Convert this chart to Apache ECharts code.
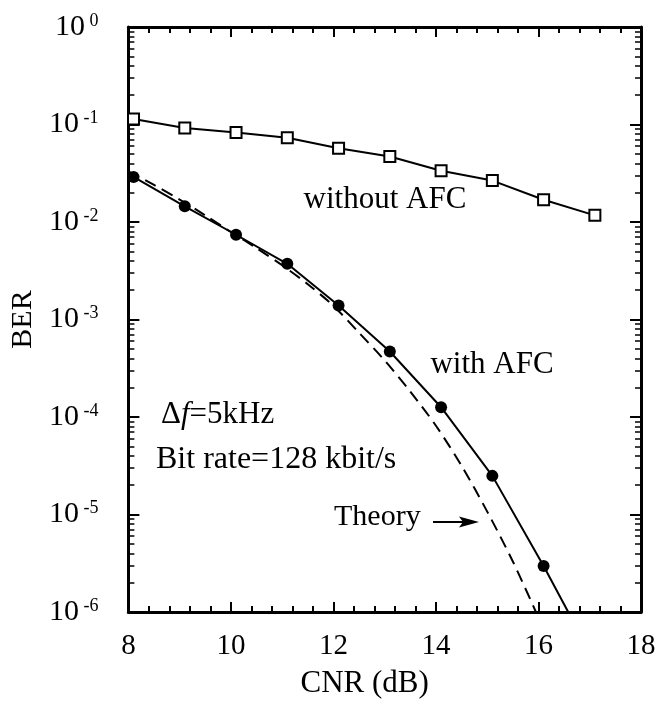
<!DOCTYPE html>
<html><head><meta charset="utf-8">
<script src="https://cdn.jsdelivr.net/npm/echarts@6/dist/echarts.min.js"></script>
<style>html,body{margin:0;padding:0;background:#fff}#c{width:660px;height:706px}</style>
</head><body><div id="c"></div><script>
// ---- data ----
const cnrWithout = [8.1, 9.1, 10.1, 11.1, 12.1, 13.1, 14.1, 15.1, 16.1, 17.1];
const berWithout = [0.114, 0.092, 0.083, 0.073, 0.057, 0.047, 0.0336, 0.0266, 0.0169, 0.0117];
const cnrWith = [8.1, 9.1, 10.1, 11.1, 12.1, 13.1, 14.1, 15.1, 16.1];
const berWith = [0.029, 0.0145, 0.0074, 0.00373, 0.00139, 0.00047, 0.000126, 0.0000249, 0.00000297];
const cnrWithTail = [16.58];
const berWithTail = [0.000001];
const cnrTheory = [8.0, 8.5, 9.0, 9.5, 10.0, 10.5, 11.0, 11.5, 12.0, 12.5, 13.0, 13.5, 14.0, 14.5, 15.0, 15.5, 15.95];
const berTheory = [0.0331, 0.024, 0.017, 0.0117, 0.0079, 0.0054, 0.0036, 0.0023, 0.00138, 0.00073, 0.00038, 0.000182, 0.0000813, 0.0000316, 0.0000107, 0.0000033, 0.000001];
const xTicks = [8, 10, 12, 14, 16, 18];
const yDecades = [-6, -5, -4, -3, -2, -1, 0];
const minorMultipliers = [2, 3, 4, 5, 6, 7, 8, 9];

// ---- build ----
const FONT = 'Liberation Serif';
const yMinor = [];
yDecades.slice(0, -1).forEach(d => minorMultipliers.forEach(m => yMinor.push(m * Math.pow(10, d))));
const pair = (xs, ys) => xs.map((x, i) => [x, ys[i]]);
const withData = pair(cnrWith, berWith).concat(
  pair(cnrWithTail, berWithTail).map(v => ({ value: v, symbol: 'none' })));

const axisLineStyle = { show: true, lineStyle: { color: '#000', width: 3 } };
function xAxisDef(pos, labels) {
  return {
    type: 'value', position: pos, min: xTicks[0], max: xTicks[xTicks.length - 1], interval: 2,
    axisLine: axisLineStyle,
    axisTick: { show: true, inside: true, length: 10, lineStyle: { color: '#000', width: 2 } },
    minorTick: { show: true, splitNumber: 5, length: 6, lineStyle: { color: '#000', width: 2 } },
    splitLine: { show: false }, minorSplitLine: { show: false },
    axisLabel: labels ? { show: true, margin: 20, fontFamily: FONT, fontSize: 29, color: '#000' } : { show: false },
    name: labels ? 'CNR (dB)' : '', nameLocation: 'middle', nameGap: 56,
    nameTextStyle: { fontFamily: FONT, fontSize: 31, color: '#000', padding: [0, 40, 0, 0] }
  };
}
function yAxisDef(pos, major, labels) {
  const ax = {
    type: 'log', logBase: 10, position: pos, min: Math.pow(10, yDecades[0]), max: Math.pow(10, yDecades[yDecades.length - 1]),
    axisLine: major ? axisLineStyle : { show: false },
    splitLine: { show: false },
    axisTick: major
      ? { show: true, inside: true, length: 11, lineStyle: { color: '#000', width: 2 } }
      : { show: true, inside: true, length: 6, customValues: yMinor, lineStyle: { color: '#000', width: 1.5 } },
    axisLabel: { show: false }
  };
  if (labels) {
    ax.axisLabel = {
      show: true, margin: 30,
      formatter: v => '{b|10}{s| ' + Math.round(Math.log10(v)) + '}',
      rich: {
        b: { fontFamily: FONT, fontSize: 30, color: '#000', lineHeight: 30 },
        s: { fontFamily: FONT, fontSize: 18, color: '#000', verticalAlign: 'top', lineHeight: 18 }
      }
    };
    ax.name = 'BER'; ax.nameLocation = 'middle'; ax.nameGap = 78; ax.nameRotate = 90;
    ax.nameTextStyle = { fontFamily: FONT, fontSize: 30, color: '#000' };
  }
  return ax;
}

const chart = echarts.init(document.getElementById('c'), null, { renderer: 'canvas' });
chart.setOption({
  backgroundColor: '#fff',
  animation: false,
  grid: { left: 117, right: 19, top: 27, bottom: 94, containLabel: false },
  xAxis: [xAxisDef('bottom', true), xAxisDef('top', false)],
  yAxis: [yAxisDef('left', true, true), yAxisDef('left', false, false), yAxisDef('right', true, false), yAxisDef('right', false, false)],
  series: [
    {
      type: 'line', data: pair(cnrWithout, berWithout), symbol: 'rect', symbolSize: 11,
      lineStyle: { color: '#000', width: 2 },
      itemStyle: { color: '#fff', borderColor: '#000', borderWidth: 2 }, z: 3
    },
    {
      type: 'line', data: pair(cnrTheory, berTheory), symbol: 'none', smooth: 0.3,
      lineStyle: { color: '#000', width: 2, type: [12, 7] }, z: 2
    },
    {
      type: 'line', data: withData, symbol: 'circle', symbolSize: 12,
      lineStyle: { color: '#000', width: 2 },
      itemStyle: { color: '#000', borderColor: '#000', borderWidth: 0 }, z: 4
    }
  ],
  graphic: [
    { type: 'text', z: 10, style: { x: 385, y: 200, text: 'without AFC', align: 'center', verticalAlign: 'middle', font: '31px "Liberation Serif"', fill: '#000' } },
    { type: 'text', z: 10, style: { x: 492, y: 365, text: 'with AFC', align: 'center', verticalAlign: 'middle', font: '31px "Liberation Serif"', fill: '#000' } },
    { type: 'text', z: 10, style: { x: 161, y: 415, verticalAlign: 'middle', text: 'Δ{i|f}=5kHz', font: '31px "Liberation Serif"', fill: '#000',
        rich: { i: { fontStyle: 'italic', fontFamily: FONT, fontSize: 31, fill: '#000' } } } },
    { type: 'text', z: 10, style: { x: 156, y: 460, verticalAlign: 'middle', text: 'Bit rate=128 kbit/s', font: '32px "Liberation Serif"', fill: '#000' } },
    { type: 'text', z: 10, style: { x: 334, y: 517, verticalAlign: 'middle', text: 'Theory', font: '30px "Liberation Serif"', fill: '#000' } },
    { type: 'line', z: 10, shape: { x1: 433, y1: 522, x2: 466, y2: 522 }, style: { stroke: '#000', lineWidth: 2 } },
    { type: 'polygon', z: 10, shape: { points: [[479, 522], [459, 516.5], [463, 522], [459, 527.5]] }, style: { fill: '#000' } }
  ]
});
</script></body></html>
